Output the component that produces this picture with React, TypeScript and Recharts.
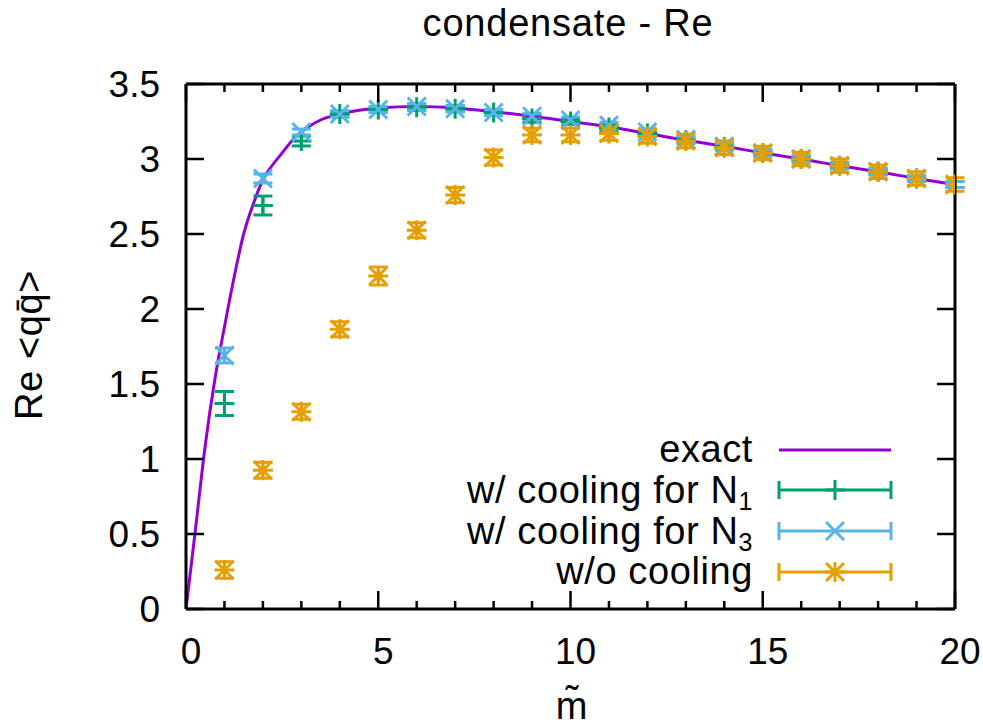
import { ComposedChart, XAxis, YAxis, Line, Scatter, ErrorBar } from "recharts";

const FONT = "'Liberation Sans', Arial, Helvetica, sans-serif";
const PURPLE = "#9400d3";
const GREEN = "#009e73";
const BLUE = "#56b4e9";
const ORANGE = "#e69f00";

// exact curve
const exactX = [0, 0.25, 0.5, 0.75, 1, 1.25, 1.5, 1.75, 2, 2.25, 2.5, 2.75, 3, 3.25, 3.5, 4, 4.5, 5, 6, 7, 8, 9, 10, 11, 12, 13, 14, 15, 16, 17, 18, 19, 20];
const exactY = [0, 0.54, 1.09, 1.53, 1.88, 2.21, 2.5, 2.7, 2.86, 2.96, 3.04, 3.12, 3.18, 3.225, 3.26, 3.3, 3.325, 3.34, 3.35, 3.34, 3.315, 3.285, 3.25, 3.215, 3.17, 3.125, 3.085, 3.04, 3.0, 2.955, 2.915, 2.87, 2.83];

const mValues = [1, 2, 3, 4, 5, 6, 7, 8, 9, 10, 11, 12, 13, 14, 15, 16, 17, 18, 19, 20];

const n1Values = [1.37, 2.69, 3.12, 3.3, 3.33, 3.345, 3.335, 3.31, 3.27, 3.25, 3.21, 3.17, 3.125, 3.08, 3.04, 3.0, 2.955, 2.915, 2.87, 2.83];
const n1Errors = [0.08, 0.063, 0.033, 0.02, 0.02, 0.02, 0.02, 0.02, 0.025, 0.02, 0.02, 0.02, 0.02, 0.02, 0.02, 0.02, 0.02, 0.02, 0.02, 0.02];

const n3Values = [1.69, 2.87, 3.18, 3.3, 3.33, 3.35, 3.335, 3.31, 3.285, 3.26, 3.225, 3.18, 3.13, 3.085, 3.04, 3.0, 2.955, 2.915, 2.87, 2.83];
const n3Errors = [0.05, 0.03, 0.02, 0.02, 0.02, 0.02, 0.02, 0.02, 0.02, 0.02, 0.02, 0.02, 0.02, 0.02, 0.02, 0.02, 0.02, 0.02, 0.02, 0.02];

const noCoolValues = [0.26, 0.925, 1.315, 1.865, 2.22, 2.525, 2.76, 3.01, 3.16, 3.16, 3.17, 3.15, 3.12, 3.075, 3.04, 3.0, 2.955, 2.915, 2.87, 2.83];
const noCoolErrors = [0.055, 0.053, 0.05, 0.05, 0.06, 0.05, 0.05, 0.05, 0.045, 0.045, 0.045, 0.045, 0.045, 0.045, 0.045, 0.045, 0.045, 0.045, 0.045, 0.045];

const xTicks = [0, 1, 2, 3, 4, 5, 6, 7, 8, 9, 10, 11, 12, 13, 14, 15, 16, 17, 18, 19, 20];
const yTicks = [0, 0.5, 1, 1.5, 2, 2.5, 3, 3.5];

const exactData = exactX.map((x, i) => ({ x, y: exactY[i] }));
const n1Data = mValues.map((x, i) => ({ x, y: n1Values[i], err: n1Errors[i] }));
const n3Data = mValues.map((x, i) => ({ x, y: n3Values[i], err: n3Errors[i] }));
const noCoolData = mValues.map((x, i) => ({ x, y: noCoolValues[i], err: noCoolErrors[i] }));

const ARM = 10;
const DIAG = 9;

const plusPath = (cx: number, cy: number) => `M${cx - ARM},${cy}H${cx + ARM}M${cx},${cy - ARM}V${cy + ARM}`;
const crossPath = (cx: number, cy: number) =>
  `M${cx - DIAG},${cy - DIAG}L${cx + DIAG},${cy + DIAG}M${cx - DIAG},${cy + DIAG}L${cx + DIAG},${cy - DIAG}`;

function PlusMark(props: any) {
  return <path d={plusPath(props.cx, props.cy)} stroke={GREEN} strokeWidth={3} fill="none" />;
}
function CrossMark(props: any) {
  return <path d={crossPath(props.cx, props.cy)} stroke={BLUE} strokeWidth={3} fill="none" />;
}
function StarMark(props: any) {
  return <path d={plusPath(props.cx, props.cy) + crossPath(props.cx, props.cy)} stroke={ORANGE} strokeWidth={3} fill="none" />;
}

function BottomTick(props: any) {
  const { x, y, payload } = props;
  const major = payload.value % 5 === 0;
  return (
    <g>
      <line x1={x} y1={y} x2={x} y2={y - (major ? 18 : 8)} stroke="#000" strokeWidth={2.5} />
      {major && (
        <text x={x + 5} y={y + 55} textAnchor="middle" fontSize={37} fontFamily={FONT} fill="#000">
          {payload.value}
        </text>
      )}
    </g>
  );
}
function TopTick(props: any) {
  const { x, y, payload } = props;
  const major = payload.value % 5 === 0;
  return <line x1={x} y1={y} x2={x} y2={y + (major ? 18 : 8)} stroke="#000" strokeWidth={2.5} />;
}
function LeftTick(props: any) {
  const { x, y, payload } = props;
  return (
    <g>
      <line x1={x} y1={y} x2={x + 18} y2={y} stroke="#000" strokeWidth={2.5} />
      <text x={x - 26} y={y + 13} textAnchor="end" fontSize={37} fontFamily={FONT} fill="#000">
        {payload.value}
      </text>
    </g>
  );
}
function RightTick(props: any) {
  const { x, y } = props;
  return <line x1={x} y1={y} x2={x - 18} y2={y} stroke="#000" strokeWidth={2.5} />;
}

const L0 = 779;
const L1 = 891;
const LM = 835;

function ErrSample({ y, color }: { y: number; color: string }) {
  return (
    <g stroke={color} strokeWidth={3} fill="none">
      <path d={`M${L0},${y}H${L1}M${L0},${y - 9}V${y + 9}M${L1},${y - 9}V${y + 9}`} />
    </g>
  );
}

function Overlay() {
  const t = { fontSize: 38, fontFamily: FONT, fill: "#000", letterSpacing: 0.6 };
  return (
    <svg width={983} height={728} style={{ position: "absolute", left: 0, top: 0, pointerEvents: "none" }}>
      <text x={568} y={36} textAnchor="middle" {...t} letterSpacing={0.8}>condensate - Re</text>
      <text x={42} y={345} textAnchor="middle" transform="rotate(-90 42 345)" {...t}>{"Re <qq\u0304>"}</text>
      <text x={572} y={719} textAnchor="middle" {...t}>{"m\u0303"}</text>

      <text x={753} y={462} textAnchor="end" {...t}>exact</text>
      <line x1={L0} y1={450} x2={L1} y2={450} stroke={PURPLE} strokeWidth={3} />

      <text x={753} y={503} textAnchor="end" {...t}>
        w/ cooling for N<tspan fontSize={25} dy={7}>1</tspan>
      </text>
      <ErrSample y={490} color={GREEN} />
      <PlusMark cx={LM} cy={490} />

      <text x={753} y={544} textAnchor="end" {...t}>
        w/ cooling for N<tspan fontSize={25} dy={7}>3</tspan>
      </text>
      <ErrSample y={531} color={BLUE} />
      <CrossMark cx={LM} cy={531} />

      <text x={753} y={584} textAnchor="end" {...t}>w/o cooling</text>
      <ErrSample y={572} color={ORANGE} />
      <StarMark cx={LM} cy={572} />
    </svg>
  );
}

export default function App() {
  return (
    <div style={{ position: "absolute", left: 0, top: 0, width: 983, height: 728, background: "#fff" }}>
      <ComposedChart width={983} height={728} margin={{ top: 0, right: 0, bottom: 0, left: 0 }}>
        <XAxis
          dataKey="x"
          type="number"
          domain={[0, 20]}
          ticks={xTicks}
          interval={0}
          height={119}
          tickSize={0}
          tickMargin={0}
          tickLine={false}
          tick={BottomTick}
          axisLine={{ stroke: "#000", strokeWidth: 3 }}
          allowDataOverflow
        />
        <XAxis
          xAxisId="top"
          orientation="top"
          dataKey="x"
          type="number"
          domain={[0, 20]}
          ticks={xTicks}
          interval={0}
          height={84}
          tickSize={0}
          tickMargin={0}
          tickLine={false}
          tick={TopTick}
          axisLine={{ stroke: "#000", strokeWidth: 3 }}
          allowDataOverflow
        />
        <YAxis
          type="number"
          domain={[0, 3.5]}
          ticks={yTicks}
          interval={0}
          width={186}
          tickSize={0}
          tickMargin={0}
          tickLine={false}
          tick={LeftTick}
          axisLine={{ stroke: "#000", strokeWidth: 3 }}
          allowDataOverflow
        />
        <YAxis
          yAxisId="right"
          orientation="right"
          type="number"
          domain={[0, 3.5]}
          ticks={yTicks}
          interval={0}
          width={28}
          tickSize={0}
          tickMargin={0}
          tickLine={false}
          tick={RightTick}
          axisLine={{ stroke: "#000", strokeWidth: 3 }}
          allowDataOverflow
        />
        <Line
          data={exactData}
          dataKey="y"
          type="monotone"
          stroke={PURPLE}
          strokeWidth={3}
          dot={false}
          activeDot={false}
          isAnimationActive={false}
        />
        <Scatter data={n1Data} dataKey="y" shape={PlusMark} isAnimationActive={false}>
          <ErrorBar dataKey="err" direction="y" width={9.5} stroke={GREEN} strokeWidth={3} isAnimationActive={false} />
        </Scatter>
        <Scatter data={n3Data} dataKey="y" shape={CrossMark} isAnimationActive={false}>
          <ErrorBar dataKey="err" direction="y" width={9.5} stroke={BLUE} strokeWidth={3} isAnimationActive={false} />
        </Scatter>
        <Scatter data={noCoolData} dataKey="y" shape={StarMark} isAnimationActive={false}>
          <ErrorBar dataKey="err" direction="y" width={9.5} stroke={ORANGE} strokeWidth={3} isAnimationActive={false} />
        </Scatter>
      </ComposedChart>
      <Overlay />
    </div>
  );
}
